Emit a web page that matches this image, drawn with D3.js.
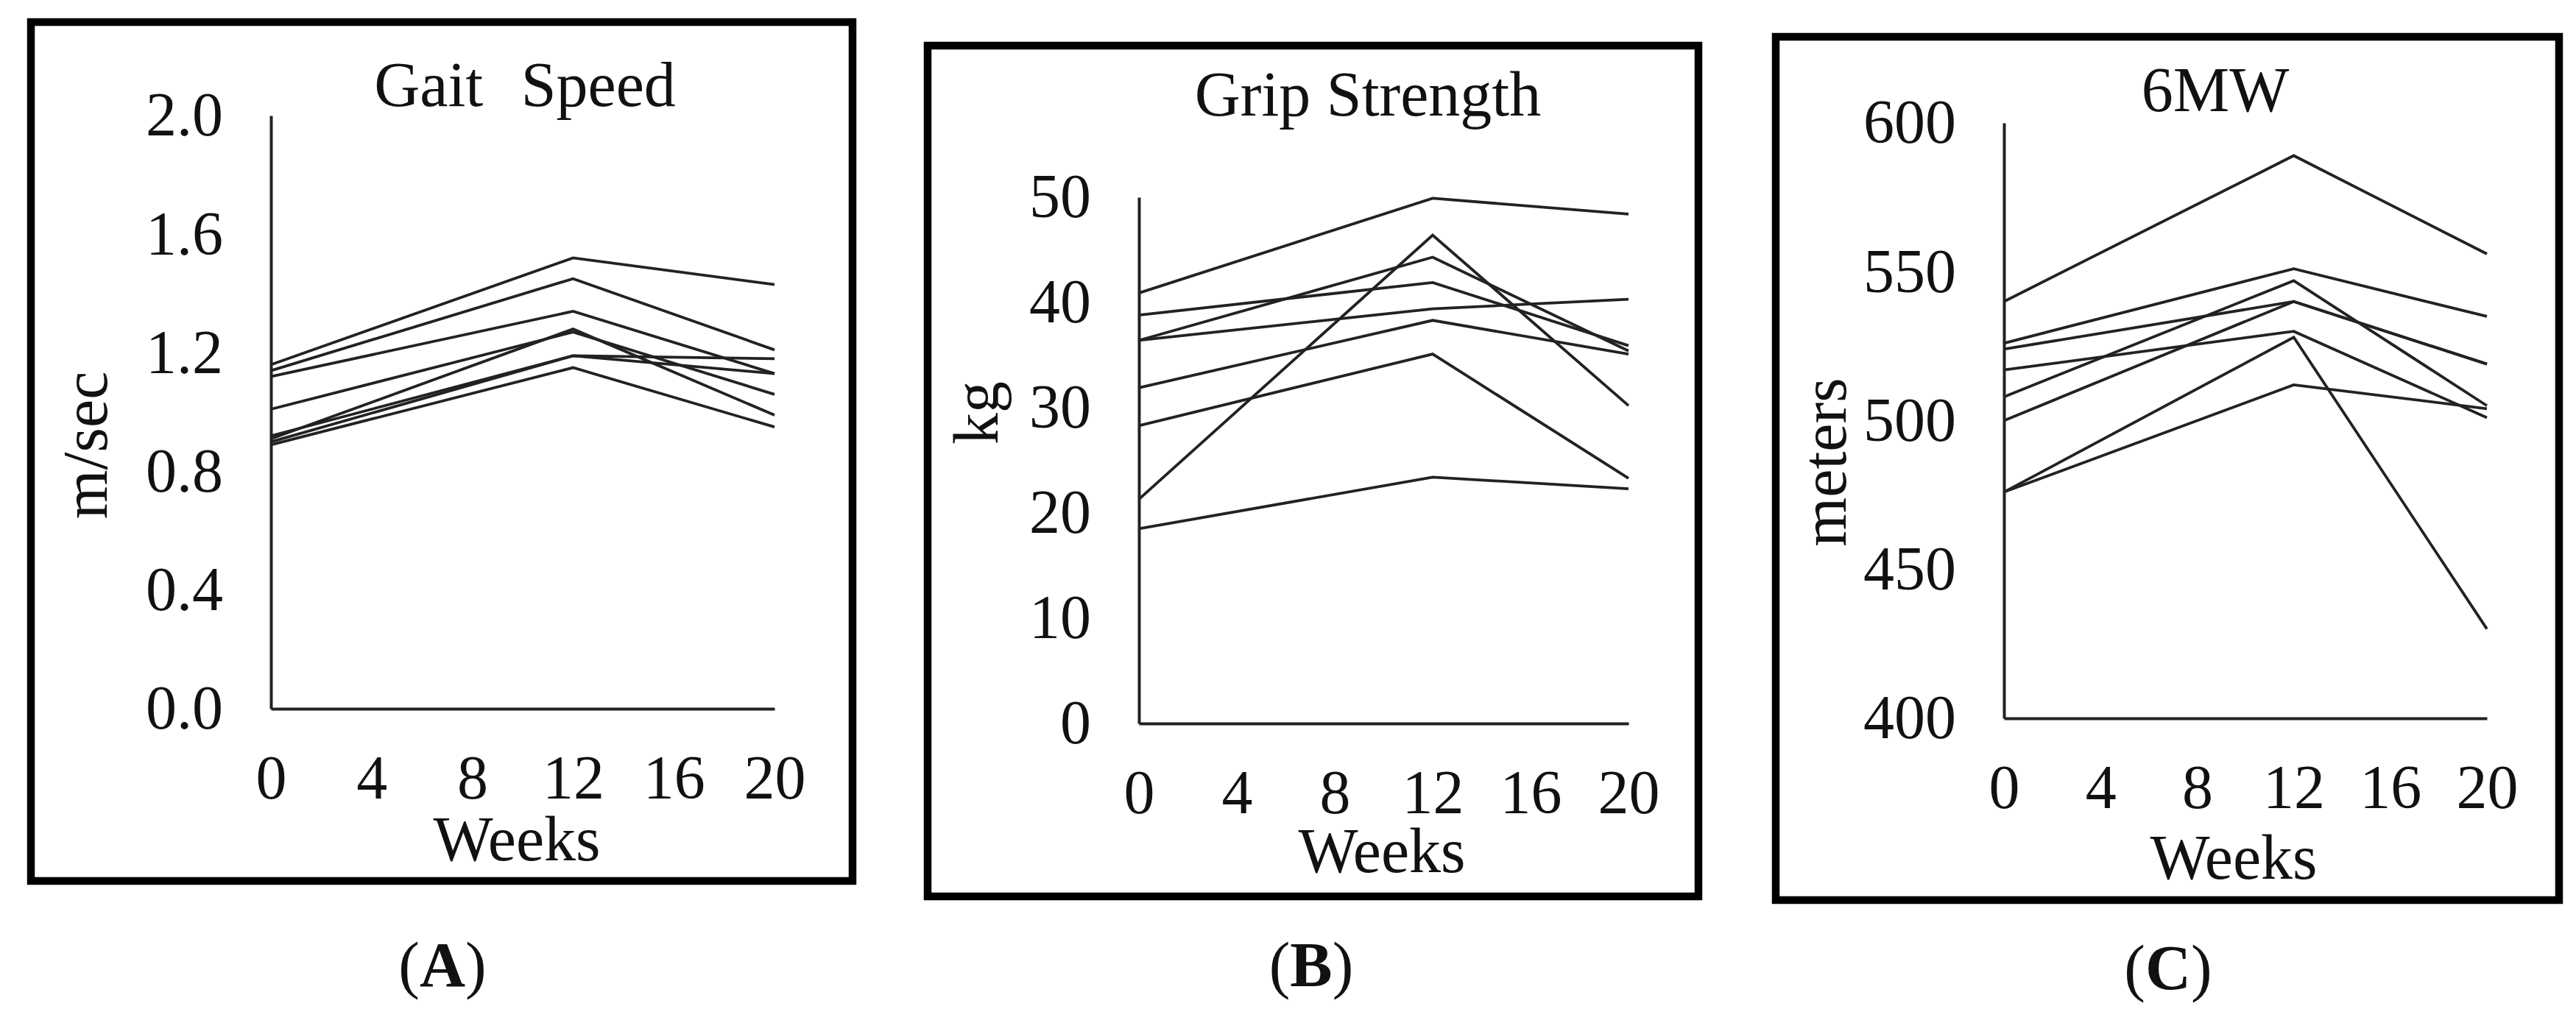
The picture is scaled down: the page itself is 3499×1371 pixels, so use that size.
<!DOCTYPE html>
<html>
<head>
<meta charset="utf-8">
<script src="https://cdn.jsdelivr.net/npm/d3@7"></script>
<style>
  body { margin: 0; background: #fff; }
  text { font-family: "Liberation Serif", "Times New Roman", serif; fill: #111; }
</style>
</head>
<body>
<div id="chart"></div>
<script>
// Width and height of the whole figure
var w = 3499;
var h = 1371;

// shared x values (weeks)
var weeks = [0, 12, 20];
var weekTicks = [0, 4, 8, 12, 16, 20];

// (A) Gait speed, m/sec - one array per participant: week 0, 12, 20
var gaitSpeed = [
    [1.16, 1.52, 1.43],
    [1.14, 1.45, 1.21],
    [1.12, 1.34, 1.13],
    [1.01, 1.27, 1.06],
    [0.91, 1.28, 0.99],
    [0.92, 1.19, 1.18],
    [0.90, 1.19, 1.13],
    [0.89, 1.15, 0.95]
];
var gaitTicks = [0, 0.4, 0.8, 1.2, 1.6, 2.0];

// (B) Grip strength, kg
var gripStrength = [
    [40.9, 49.9, 48.4],
    [21.3, 46.4, 30.2],
    [36.4, 44.3, 35.4],
    [38.8, 41.9, 35.9],
    [36.4, 39.4, 40.3],
    [31.9, 38.3, 35.1],
    [28.3, 35.1, 23.3],
    [18.5, 23.4, 22.3]
];
var gripTicks = [0, 10, 20, 30, 40, 50];

// (C) 6 minute walk, meters
var sixMW = [
    [540, 589, 556],
    [526, 551, 535],
    [524, 540, 519],
    [517, 530, 501],
    [508, 547, 505],
    [500, 540, 519],
    [476, 528, 430],
    [476, 512, 504]
];
var mwTicks = [400, 450, 500, 550, 600];

var svg = d3.select("#chart")
    .append("svg")
    .attr("width", w)
    .attr("height", h);

// layout of the three panels (pixel boxes)
// plot = [left, top, right, bottom] of the axes
var panels = [
    {data: gaitSpeed, ticks: gaitTicks, domain: [0, 2], fmt: d3.format(".1f"),
     frame: [42, 30, 1116, 1167], plot: [368, 157, 1052, 963],
     title: "Gait Speed", titlePos: [713, 144], wordGap: 30, ylab: "m/sec", ylabPos: [115, 605],
     weeksPos: [702, 1169], tag: "A", tagPos: [601, 1340]},
    {data: gripStrength, ticks: gripTicks, domain: [0, 50], fmt: d3.format("d"),
     frame: [1260, 62, 1047, 1156], plot: [1547, 268, 2212, 983],
     title: "Grip Strength", titlePos: [1858, 157], wordGap: 0, ylab: "kg", ylabPos: [1325, 561],
     weeksPos: [1877, 1185], tag: "B", tagPos: [1781, 1340]},
    {data: sixMW, ticks: mwTicks, domain: [400, 600], fmt: d3.format("d"),
     frame: [2412, 50, 1064, 1173], plot: [2722, 167, 3378, 976],
     title: "6MW", titlePos: [3009, 151], wordGap: 0, ylab: "meters", ylabPos: [2477, 628],
     weeksPos: [3034, 1194], tag: "C", tagPos: [2945, 1344]}
];

var tickFont = 84;
var labelFont = 86;

panels.forEach(function(p) {
    var g = svg.append("g");

    // outer box
    g.append("rect")
        .attr("x", p.frame[0]).attr("y", p.frame[1])
        .attr("width", p.frame[2]).attr("height", p.frame[3])
        .attr("fill", "none")
        .attr("stroke", "#000")
        .attr("stroke-width", 10.5);

    var xScale = d3.scaleLinear().domain([0, 20]).range([p.plot[0], p.plot[2]]);
    var yScale = d3.scaleLinear().domain(p.domain).range([p.plot[3], p.plot[1]]);

    // axes - no tick marks, just the line and labels
    var yAxis = d3.axisLeft(yScale).tickValues(p.ticks).tickFormat(p.fmt)
        .tickSize(0).tickPadding(65);
    var xAxis = d3.axisBottom(xScale).tickValues(weekTicks)
        .tickSize(0).tickPadding(62);

    var ya = g.append("g").attr("transform", "translate(" + p.plot[0] + ",0)").call(yAxis);
    var xa = g.append("g").attr("transform", "translate(0," + p.plot[3] + ")").call(xAxis);

    [ya, xa].forEach(function(a) {
        a.select(".domain").attr("stroke", "#222").attr("stroke-width", 4);
        a.selectAll("text")
            .style("font-family", "'Liberation Serif', serif")
            .style("font-size", tickFont + "px")
            .attr("fill", "#111");
    });

    // one line per participant
    var line = d3.line()
        .x(function(d, i) { return xScale(weeks[i]); })
        .y(function(d) { return yScale(d); });

    g.selectAll("path.series")
        .data(p.data)
        .enter()
        .append("path")
        .attr("class", "series")
        .attr("d", line)
        .attr("fill", "none")
        .attr("stroke", "#222")
        .attr("stroke-width", 3.8);

    // titles and labels
    g.append("text")
        .attr("x", p.titlePos[0]).attr("y", p.titlePos[1])
        .attr("text-anchor", "middle")
        .style("font-size", labelFont + "px")
        .style("word-spacing", p.wordGap + "px")
        .text(p.title);

    g.append("text")
        .attr("transform", "translate(" + p.ylabPos[0] + "," + p.ylabPos[1] + ") rotate(-90)")
        .attr("text-anchor", "middle")
        .attr("dy", "0.35em")
        .style("font-size", labelFont + "px")
        .text(p.ylab);

    g.append("text")
        .attr("x", p.weeksPos[0]).attr("y", p.weeksPos[1])
        .attr("text-anchor", "middle")
        .style("font-size", labelFont + "px")
        .text("Weeks");

    var tag = g.append("text")
        .attr("x", p.tagPos[0]).attr("y", p.tagPos[1])
        .attr("text-anchor", "middle")
        .style("font-size", "86px");
    tag.append("tspan").text("(");
    tag.append("tspan").attr("font-weight", "bold").text(p.tag);
    tag.append("tspan").text(")");
});
</script>
</body>
</html>
